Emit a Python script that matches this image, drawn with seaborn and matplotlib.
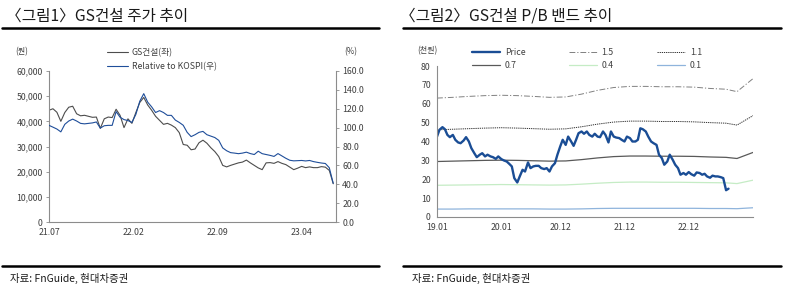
import pandas as pd
import seaborn as sns
import matplotlib.pyplot as plt
import matplotlib.dates as mdates
from matplotlib.ticker import FuncFormatter, MultipleLocator
from matplotlib.lines import Line2D

sns.set_style("white")
plt.rcParams['font.family'] = ['Noto Sans CJK KR', 'DejaVu Sans']

# --- 그림1 data: GS건설 price (원) and relative to KOSPI (%), ~10 day steps from 21.07
gs_start = '2021-07-01'
gs_price = [44.4, 45.0, 43.6, 40.0, 43.5, 45.6, 46.0, 43.0, 42.2, 42.4,
            42.0, 41.6, 41.7, 37.2, 41.0, 41.7, 41.5, 44.8, 42.4, 37.5,
            41.0, 39.2, 43.5, 47.5, 49.5, 46.5, 44.4, 42.0, 40.4, 38.8,
            39.2, 38.5, 37.5, 35.5, 30.8, 30.5, 28.7, 29.0, 31.5, 32.5,
            31.3, 29.5, 28.0, 26.0, 22.5, 21.9, 22.5, 23.0, 23.5, 23.8,
            24.6, 23.5, 22.5, 21.5, 20.8, 23.5, 23.6, 23.3, 24.0, 23.3,
            22.8, 21.8, 20.8, 21.4, 22.1, 21.6, 21.9, 21.6, 21.6, 22.0,
            21.8, 20.5, 15.2]
gs_price = [v * 1000 for v in gs_price]
gs_rel = [102.4, 100.5, 98.5, 95.5, 103.5, 107, 109, 107, 104.5, 104,
          104.5, 105, 106, 99.5, 102, 102.4, 102.4, 117, 111, 108.5,
          107.5, 105.5, 114, 128, 136, 127, 122, 116, 118, 116,
          113, 113, 108, 105.5, 102.5, 95, 90.5, 92.5, 95, 96,
          92.5, 91, 89.5, 86.5, 78.5, 75.5, 73.5, 73, 72.4, 73,
          74, 72.5, 71.5, 75, 72.4, 71.5, 70.6, 69.5, 72.5, 70,
          67.5, 65.4, 64.8, 65, 65.2, 64.7, 65.2, 64, 63.2, 62.5,
          62, 57.5, 41]

# --- 그림2 data: price (천원), semi-monthly from 19.01
pb_start = '2019-01-01'
pb_price = [42.6, 46.2, 47.6, 46.5, 43.5, 42.3, 43.5, 40.9, 39.5, 39.1,
            40.5, 42.3, 40.0, 36.5, 33.8, 31.7, 33.0, 33.8, 32.1, 33.0,
            32.1, 31.7, 30.8, 32.1, 30.7, 30.0, 29.4, 28.2, 26.8, 20.6,
            18.3, 21.5, 25.0, 24.1, 28.9, 25.9, 26.8, 27.1, 27.1, 25.9,
            25.4, 25.9, 24.1, 26.8, 28.5, 33.0, 37.4, 40.9, 38.2, 42.6,
            40.0, 37.7, 40.9, 44.4, 45.3, 44.1, 45.3, 43.5, 42.6, 44.1,
            42.6, 42.3, 45.3, 43.5, 39.5, 45.3, 42.6, 42.1, 41.8, 40.9,
            40.0, 42.6, 41.8, 40.0, 40.0, 40.9, 47.0, 46.5, 45.3, 42.6,
            40.0, 39.1, 38.2, 33.0, 31.2, 27.7, 29.4, 33.0, 30.3, 27.7,
            25.9, 22.4, 23.3, 22.4, 23.8, 22.7, 21.9, 23.6, 23.3, 22.4,
            22.9, 21.5, 20.8, 21.9, 21.5, 21.5, 21.1, 20.6, 14.2, 15.0]

band_dates = ['2019-01-01', '2019-04-01', '2019-07-01', '2019-10-01', '2020-01-01',
              '2020-04-01', '2020-07-01', '2020-10-01', '2021-01-01', '2021-04-01',
              '2021-07-01', '2021-10-01', '2022-01-01', '2022-04-01', '2022-07-01',
              '2022-10-01', '2023-01-01', '2023-04-01', '2023-07-01', '2023-09-01',
              '2023-12-01']
band_15 = [63.0, 63.4, 63.9, 64.3, 64.5, 64.3, 63.9, 63.4, 63.6, 65.1, 67.1,
           68.6, 69.2, 69.2, 69.0, 69.0, 68.8, 68.1, 67.7, 66.4, 73.3]
band_11 = [46.2, 46.5, 46.8, 47.1, 47.3, 47.1, 46.8, 46.5, 46.7, 47.8, 49.2,
           50.3, 50.8, 50.8, 50.6, 50.6, 50.4, 50.0, 49.7, 48.7, 53.7]
band_07 = [29.4, 29.6, 29.8, 30.0, 30.1, 30.0, 29.8, 29.6, 29.7, 30.4, 31.3,
           32.0, 32.3, 32.3, 32.2, 32.2, 32.1, 31.8, 31.6, 31.0, 34.2]
band_04 = [16.8, 16.9, 17.0, 17.1, 17.2, 17.1, 17.0, 16.9, 17.0, 17.4, 17.9,
           18.3, 18.5, 18.5, 18.4, 18.4, 18.3, 18.2, 18.1, 17.7, 19.5]
band_01 = [4.2, 4.2, 4.3, 4.3, 4.3, 4.3, 4.3, 4.2, 4.2, 4.3, 4.5,
           4.6, 4.6, 4.6, 4.6, 4.6, 4.6, 4.5, 4.5, 4.4, 4.9]

df1 = pd.DataFrame({'date': pd.date_range(gs_start, periods=len(gs_price), freq='10D'),
                    'price': gs_price, 'rel': gs_rel})
df2 = pd.DataFrame({'date': pd.date_range(pb_start, periods=len(pb_price), freq='SMS'),
                    'price': pb_price})
bands = pd.DataFrame({'date': pd.to_datetime(band_dates), '1.5': band_15, '1.1': band_11,
                      '0.7': band_07, '0.4': band_04, '0.1': band_01})

W, H = 786, 291
fig = plt.figure(figsize=(W / 100, H / 100), dpi=100)

def box(x0, y0, x1, y1):
    return [x0 / W, 1 - y1 / H, (x1 - x0) / W, (y1 - y0) / H]

grey = '#404040'
spine_c = '#8c8c8c'
fs = 6.3
blue_rel = '#1f4e9a'
price_blue = '#1a4d95'

def style_ax(a):
    for s in ['top', 'right', 'left', 'bottom']:
        a.spines[s].set_visible(False)
    a.tick_params(labelsize=fs, colors=grey, length=2.5, width=0.6, pad=2)
    a.tick_params(axis='both', color=spine_c)

# ----- left chart
ax1 = fig.add_axes(box(49, 71, 336, 222))
sns.lineplot(data=df1, x='date', y='price', ax=ax1, color='#4d4d4d', lw=0.8)
ax2 = ax1.twinx()
sns.lineplot(data=df1, x='date', y='rel', ax=ax2, color=blue_rel, lw=0.8)
for a in (ax1, ax2):
    style_ax(a)
ax1.spines['left'].set_visible(True)
ax1.spines['bottom'].set_visible(True)
ax2.spines['right'].set_visible(True)
for s in (ax1.spines['left'], ax1.spines['bottom'], ax2.spines['right']):
    s.set_color(spine_c)
    s.set_linewidth(0.8)
ax1.set_ylim(0, 60000)
ax1.yaxis.set_major_locator(MultipleLocator(10000))
ax1.yaxis.set_major_formatter(FuncFormatter(lambda v, p: f'{v:,.0f}'))
ax2.set_ylim(0, 160)
ax2.yaxis.set_major_locator(MultipleLocator(20))
ax2.yaxis.set_major_formatter(FuncFormatter(lambda v, p: f'{v:.1f}'))
ax1.set_xlim(pd.Timestamp('2021-07-01'), pd.Timestamp('2023-06-28'))
ax1.set_xticks(pd.to_datetime(['2021-07-01', '2022-02-01', '2022-09-01', '2023-04-01']))
ax1.xaxis.set_major_formatter(mdates.DateFormatter('%y.%m'))
for a in (ax1, ax2):
    a.set_xlabel('')
    a.set_ylabel('')
h1 = [Line2D([], [], color='#4d4d4d', lw=0.8), Line2D([], [], color=blue_rel, lw=0.8)]
ax1.legend(h1, ['GS건설(좌)', 'Relative to KOSPI(우)'], frameon=False, fontsize=fs,
           loc='upper left', bbox_to_anchor=(103 / W, 1 - 44 / H), bbox_transform=fig.transFigure,
           handlelength=2.3, handletextpad=0.5, labelspacing=0.55, borderpad=0, labelcolor=grey)

# ----- right chart
ax3 = fig.add_axes(box(437, 66, 753, 217))
sns.lineplot(data=bands, x='date', y='1.5', ax=ax3, color='#808080', lw=0.7, dashes=False)
ax3.lines[-1].set_dashes([6, 2, 1.2, 2])
sns.lineplot(data=bands, x='date', y='1.1', ax=ax3, color='#333333', lw=0.7)
ax3.lines[-1].set_dashes([1.3, 0.9])
sns.lineplot(data=bands, x='date', y='0.7', ax=ax3, color='#595959', lw=0.9)
sns.lineplot(data=bands, x='date', y='0.4', ax=ax3, color='#c5ecc5', lw=0.9)
sns.lineplot(data=bands, x='date', y='0.1', ax=ax3, color='#8fb4dc', lw=0.9)
sns.lineplot(data=df2, x='date', y='price', ax=ax3, color=price_blue, lw=1.7)
style_ax(ax3)
ax3.spines['left'].set_visible(True)
ax3.spines['bottom'].set_visible(True)
for s in (ax3.spines['left'], ax3.spines['bottom']):
    s.set_color(spine_c)
    s.set_linewidth(0.8)
ax3.set_ylim(0, 80)
ax3.yaxis.set_major_locator(MultipleLocator(10))
ax3.set_xlim(pd.Timestamp('2019-01-01'), pd.Timestamp('2023-12-01'))
ax3.set_xticks(pd.to_datetime(['2019-01-01', '2020-01-01', '2020-12-01', '2021-12-01', '2022-12-01']))
ax3.xaxis.set_major_formatter(mdates.DateFormatter('%y.%m'))
ax3.set_xlabel('')
ax3.set_ylabel('')
h3 = [Line2D([], [], color=price_blue, lw=1.7),
      Line2D([], [], color='#595959', lw=0.9),
      Line2D([], [], color='#808080', lw=0.7, dashes=[6, 2, 1.2, 2]),
      Line2D([], [], color='#c5ecc5', lw=0.9),
      Line2D([], [], color='#333333', lw=0.7, dashes=[1.3, 0.9]),
      Line2D([], [], color='#8fb4dc', lw=0.9)]
ax3.legend(h3, ['Price', '0.7', '1.5', '0.4', '1.1', '0.1'], ncol=3, frameon=False, fontsize=fs,
           loc='upper left', bbox_to_anchor=(468 / W, 1 - 44 / H), bbox_transform=fig.transFigure,
           handlelength=3.2, handletextpad=0.5, labelspacing=0.45, columnspacing=5.0,
           borderpad=0, labelcolor=grey)

# ----- titles, units, rules, source
fig.text(6 / W, 1 - 16 / H, '〈그림1〉GS건설 주가 추이', fontsize=11.3, color='#1a1a1a', va='center')
fig.text(400 / W, 1 - 16 / H, '〈그림2〉GS건설 P/B 밴드 추이', fontsize=11.3, color='#1a1a1a', va='center')
fig.text(15 / W, 1 - 52 / H, '(원)', fontsize=fs - 0.5, color=grey, va='center')
fig.text(344 / W, 1 - 52 / H, '(%)', fontsize=fs - 0.5, color=grey, va='center')
fig.text(417 / W, 1 - 51 / H, '(천원)', fontsize=fs - 0.5, color=grey, va='center')
for x0, x1 in [(2, 379), (403, 781)]:
    fig.add_artist(Line2D([x0 / W, x1 / W], [1 - 27.5 / H] * 2, color='black', lw=1.8))
    fig.add_artist(Line2D([x0 / W, x1 / W], [1 - 266 / H] * 2, color='black', lw=1.8))
fig.text(10 / W, 1 - 278 / H, '자료: FnGuide, 현대차증권', fontsize=7.5, color='#1a1a1a', va='center')
fig.text(412 / W, 1 - 278 / H, '자료: FnGuide, 현대차증권', fontsize=7.5, color='#1a1a1a', va='center')

fig.savefig('out.png', dpi=100)
